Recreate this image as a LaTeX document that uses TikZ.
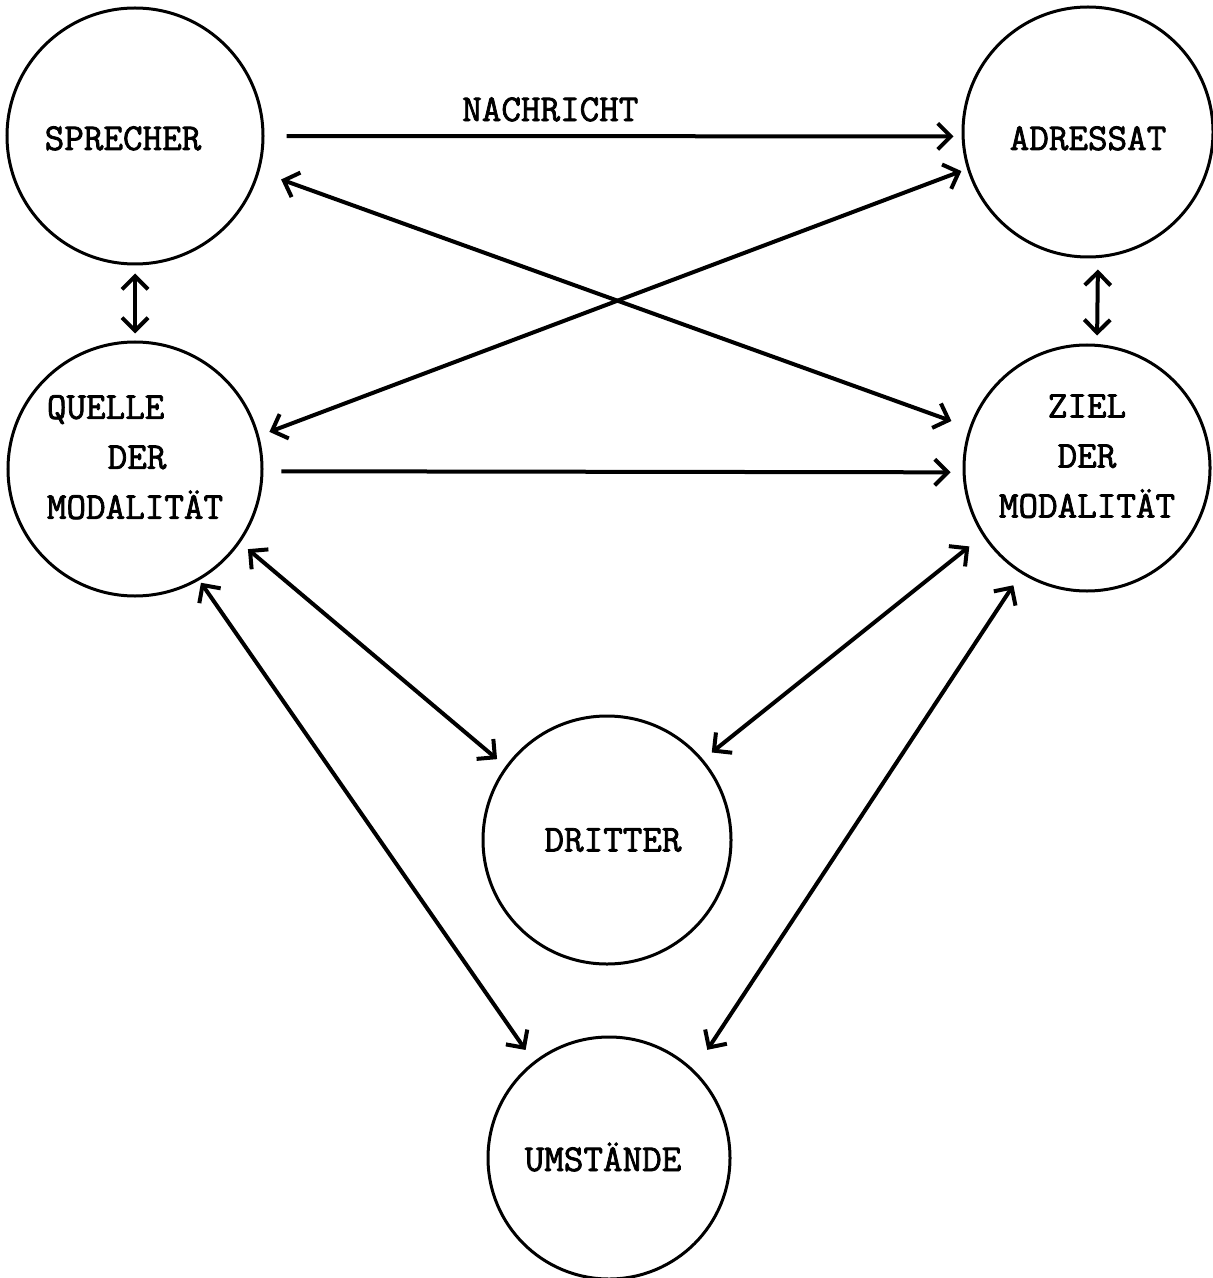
\documentclass[tikz,border=0pt]{standalone}
\usepackage{fontspec}
\setmonofont{Latin Modern Mono}[BoldFont={Latin Modern Mono},BoldFeatures={FakeBold=2}]
\usetikzlibrary{arrows.meta}

\begin{document}
\begin{tikzpicture}[>={Straight Barb[length=6.5pt,width=13pt]},x=.5pt,y=-.5pt,
  font=\ttfamily\bfseries\fontsize{19}{25}\selectfont,
  bubble/.style={draw,circle,line width=1.5pt,inner sep=0pt},
  link/.style={line width=2pt}]
\useasboundingbox (0,0) rectangle (1213,1278);

\node[bubble,minimum size=128pt,text height=14pt,text depth=0pt] (sprecher) at (135,136) {SPRECHER\hspace*{12pt}};
\node[bubble,minimum size=125pt,text height=18pt,text depth=0pt] (adressat) at (1088,132) {ADRESSAT};
\node[bubble,minimum size=127pt,align=left] (quelle) at (135,469) {QUELLE\\\hspace*{1.6em}DER\\MODALITÄT\\[-13pt]\mbox{}};
\node[bubble,minimum size=123pt,align=center] (ziel) at (1087,468) {ZIEL\\DER\\MODALITÄT\\[-13pt]\mbox{}};
\node[bubble,minimum size=124pt] (dritter) at (607,840) {\hspace*{6pt}DRITTER};
\node[bubble,minimum size=121pt,text height=13pt,text depth=0pt] (umstaende) at (609,1158) {UMSTÄNDE\hspace*{6pt}};

\draw[link,->,shorten <=11pt,shorten >=4pt] (sprecher.0) -- (adressat.182.6)
    node[pos=.41,above=3pt] (nachricht) {NACHRICHT};
\draw[link,<->,shorten <=11.5pt,shorten >=9.5pt] (sprecher.-16.5) -- (ziel.161);
\draw[link,<->,shorten <=3pt,shorten >=5.5pt] (adressat.197.7) -- (quelle.15.5);
\draw[link,<->,shorten <=4pt,shorten >=3.5pt] (sprecher.south) -- (quelle.north);
\draw[link,<->,shorten <=5.5pt,shorten >=4pt] ([xshift=5pt]adressat.south) -- ([xshift=5pt]ziel.north);
\draw[link,->,shorten <=9pt,shorten >=6pt] (quelle.-1.2) -- (ziel.182);

\draw[link,<->,shorten <=5pt,shorten >=5.5pt] (quelle.-35.2) -- (dritter.144.7);
\draw[link,<->,shorten <=8.5pt,shorten >=5.5pt] (ziel.213.3) -- (dritter.40.2);
\draw[link,<->,shorten <=1.5pt,shorten >=7pt] (quelle.-60.1) -- (umstaende.128.7);
\draw[link,<->,shorten <=7pt,shorten >=12pt] (ziel.238.4) -- (umstaende.46.1);
\end{tikzpicture}
\end{document}
